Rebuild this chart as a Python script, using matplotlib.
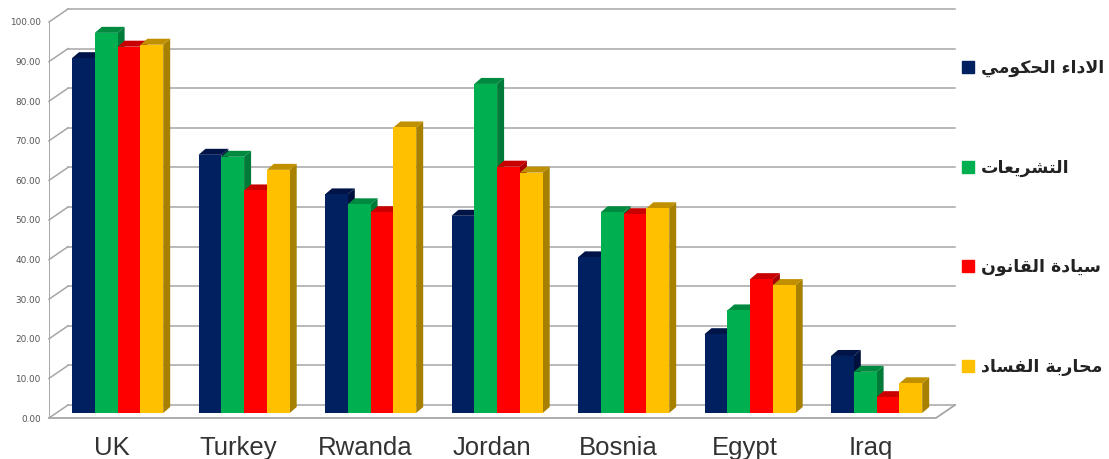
import matplotlib
matplotlib.use("Agg")
import matplotlib.pyplot as plt
from matplotlib.patches import Polygon
from matplotlib.lines import Line2D

countries = ["UK", "Turkey", "Rwanda", "Jordan", "Bosnia", "Egypt", "Iraq"]
governance = [89.6, 65.2, 55.2, 49.8, 39.3, 19.9, 14.4]
legislation = [96.0, 64.7, 52.7, 83.1, 50.7, 25.9, 10.4]
rule_of_law = [92.5, 56.2, 50.7, 62.2, 50.2, 33.8, 4.0]
anti_corruption = [93.0, 61.4, 72.1, 60.7, 51.7, 32.3, 7.5]
series_names = ["الاداء الحكومي", "التشريعات", "سيادة القانون", "محاربة الفساد"]
y_ticks = [0, 10, 20, 30, 40, 50, 60, 70, 80, 90, 100]

FACE = ["#002060", "#00B050", "#FF0000", "#FFC000"]
SIDE = ["#00103C", "#007A38", "#A80000", "#A88000"]
TOP = ["#001448", "#008A40", "#C80000", "#C09000"]
GRID = "#A6A6A6"

# Contextual glyph forms: isolated, final, initial, medial
FORMS = {
    "ء": (0xFE80,), "ا": (0xFE8D, 0xFE8E), "ب": (0xFE8F, 0xFE90, 0xFE91, 0xFE92),
    "ة": (0xFE93, 0xFE94), "ت": (0xFE95, 0xFE96, 0xFE97, 0xFE98),
    "ح": (0xFEA1, 0xFEA2, 0xFEA3, 0xFEA4), "د": (0xFEA9, 0xFEAA), "ر": (0xFEAD, 0xFEAE),
    "س": (0xFEB1, 0xFEB2, 0xFEB3, 0xFEB4), "ش": (0xFEB5, 0xFEB6, 0xFEB7, 0xFEB8),
    "ع": (0xFEC9, 0xFECA, 0xFECB, 0xFECC), "ف": (0xFED1, 0xFED2, 0xFED3, 0xFED4),
    "ق": (0xFED5, 0xFED6, 0xFED7, 0xFED8), "ك": (0xFED9, 0xFEDA, 0xFEDB, 0xFEDC),
    "ل": (0xFEDD, 0xFEDE, 0xFEDF, 0xFEE0), "م": (0xFEE1, 0xFEE2, 0xFEE3, 0xFEE4),
    "ن": (0xFEE5, 0xFEE6, 0xFEE7, 0xFEE8), "و": (0xFEED, 0xFEEE),
    "ي": (0xFEF1, 0xFEF2, 0xFEF3, 0xFEF4), "لا": (0xFEFB, 0xFEFC),
}


def shape_arabic(text):
    """Join Arabic letters and return them in display order."""
    text = text.replace("لا", "\uE000")
    letters = ["لا" if c == "\uE000" else c for c in text]
    out = []
    for i, c in enumerate(letters):
        if c not in FORMS:
            out.append(c)
            continue
        prev = letters[i - 1] if i else " "
        nxt = letters[i + 1] if i + 1 < len(letters) else " "
        joins_prev = prev in FORMS and len(FORMS[prev]) == 4 and len(FORMS[c]) > 1
        joins_next = nxt in FORMS and len(FORMS[c]) == 4 and len(FORMS[nxt]) > 1
        forms = FORMS[c]
        if joins_prev and joins_next:
            code = forms[3]
        elif joins_next:
            code = forms[2]
        elif joins_prev:
            code = forms[1]
        else:
            code = forms[0]
        out.append(chr(code))
    return "".join(reversed(out))


W, H = 1109, 459
fig = plt.figure(figsize=(W / 100, H / 100), dpi=100, facecolor="white")

# Plot box runs from the front axis to the end of the back wall
LEFT, RIGHT, TOP_PX, BOTTOM = 49, 955, 9, 418
ax = fig.add_axes([LEFT / W, 1 - BOTTOM / H, (RIGHT - LEFT) / W, (BOTTOM - TOP_PX) / H])

PX_Y = 3.96      # pixels per value unit
PX_X = 126.5     # pixels per category
FIRST_TICK = 112
ax.set_xlim((LEFT - FIRST_TICK) / PX_X, (RIGHT - FIRST_TICK) / PX_X)
ax.set_ylim(0, (BOTTOM - TOP_PX) / PX_Y)
for spine in ax.spines.values():
    spine.set_visible(False)

ux = lambda px: px / PX_X
uy = lambda px: px / PX_Y

# Oblique wall and floor
WALL_DX, WALL_DY = ux(19), uy(13)
xa, xb = ax.get_xlim()
for v in y_ticks:
    ax.plot([xa, xa + WALL_DX], [v, v + WALL_DY], color=GRID, lw=1.1, zorder=1, clip_on=False)
    ax.plot([xa + WALL_DX, xb], [v + WALL_DY, v + WALL_DY], color=GRID, lw=1.1, zorder=1, clip_on=False)
ax.plot([xa, xa], [0, 100], color=GRID, lw=1.4, zorder=1)
ax.plot([xa, xb - WALL_DX, xb], [0, 0, WALL_DY], color=GRID, lw=1.3, zorder=1, clip_on=False)

# Bars with their side and top faces
BAR_W = ux(22.8)
BAR_START = ux(72 - FIRST_TICK)
BASE = uy(5)
DEPTH_X, DEPTH_Y = ux(7), uy(6)
all_series = [governance, legislation, rule_of_law, anti_corruption]
z = 2
for g in range(len(countries)):
    for s, values in enumerate(all_series):
        left = g + BAR_START + s * BAR_W
        right = left + BAR_W
        top = BASE + values[g]
        ax.add_patch(Polygon([(right, BASE), (right + DEPTH_X, BASE + DEPTH_Y),
                              (right + DEPTH_X, top + DEPTH_Y), (right, top)],
                             facecolor=SIDE[s], edgecolor="none", zorder=z))
        ax.add_patch(Polygon([(left, top), (left + DEPTH_X, top + DEPTH_Y),
                              (right + DEPTH_X, top + DEPTH_Y), (right, top)],
                             facecolor=TOP[s], edgecolor="none", zorder=z))
        ax.bar(left, values[g], width=BAR_W, bottom=BASE, align="edge",
               color=FACE[s], zorder=z + 0.5)
        z += 1

ax.set_yticks(y_ticks)
ax.set_yticklabels([f"{v:.2f}" for v in y_ticks], fontsize=6.4, color="#555555",
                   family="DejaVu Sans")
ax.set_xticks(range(len(countries)))
ax.set_xticklabels(countries, fontsize=18.5, color="#333333", family="Liberation Sans")
ax.tick_params(axis="y", length=0, pad=6)
ax.tick_params(axis="x", length=0, pad=13)

# Legend beside the wall
handles = [Line2D([], [], linestyle="none", marker="s", markersize=8.6, color=c) for c in FACE]
ax.legend(handles, [shape_arabic(n) for n in series_names], loc="upper left",
          bbox_to_anchor=((961 - LEFT) / (RIGHT - LEFT), (BOTTOM - 59) / (BOTTOM - TOP_PX)),
          frameon=False, handlelength=0.85, handletextpad=0.3, labelspacing=4.69,
          borderaxespad=0, borderpad=0, labelcolor="#222222",
          prop={"family": "DejaVu Sans", "weight": "bold", "size": 12.5})

fig.savefig("out.png", dpi=100)
